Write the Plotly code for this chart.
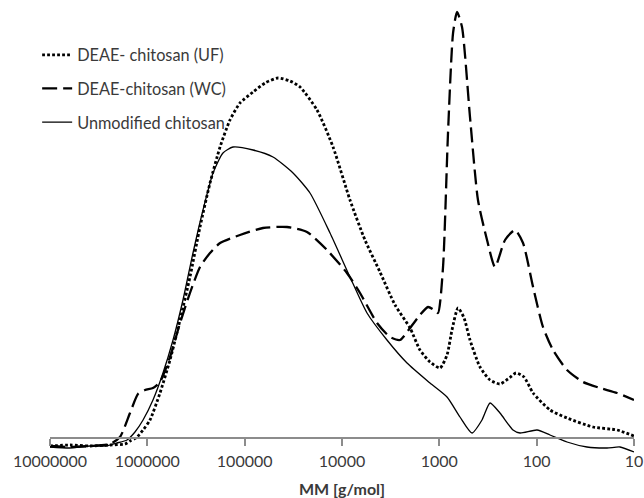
import numpy as np
import plotly.graph_objects as go

# ---- data (log10 of molar mass, detector signal in arbitrary units)
uf_log_mm = [7.000, 6.795, 6.589, 6.384, 6.229, 6.178, 6.116, 6.044, 5.973, 5.870, 5.767, 5.664,
             5.562, 5.459, 5.356, 5.253, 5.151, 5.048, 4.914, 4.791, 4.657, 4.534, 4.431, 4.257,
             4.092, 3.918, 3.764, 3.610, 3.455, 3.301, 3.199, 3.096, 2.993, 2.921, 2.870, 2.808,
             2.746, 2.685, 2.582, 2.479, 2.377, 2.294, 2.212, 2.130, 2.037, 1.863, 1.688, 1.421,
             1.174, 1.000]
uf_signal = [-8, -7, -8, -7, -6, -3, 0, 8, 18, 45, 78, 118,
             161, 211, 255, 291, 318, 335, 346, 355, 360, 357, 351, 328,
             291, 238, 198, 166, 133, 110, 88, 76, 70, 83, 108, 130,
             120, 98, 71, 58, 54, 59, 65, 61, 45, 28, 20, 11,
             8, 2]

wc_log_mm = [7.000, 6.795, 6.589, 6.384, 6.281, 6.178, 6.096, 6.024, 5.942, 5.870, 5.767, 5.664,
             5.562, 5.459, 5.356, 5.253, 5.048, 4.812, 4.565, 4.360, 4.154, 3.949, 3.815, 3.640,
             3.507, 3.404, 3.301, 3.199, 3.116, 3.055, 3.014, 2.962, 2.911, 2.859, 2.818, 2.767,
             2.685, 2.603, 2.510, 2.428, 2.325, 2.222, 2.140, 2.037, 1.935, 1.832, 1.688, 1.524,
             1.349, 1.174, 1.000]
wc_signal = [-8, -9, -8, -6, 1, 25, 44, 48, 50, 56, 81, 115,
             145, 171, 185, 195, 203, 210, 211, 206, 188, 165, 145, 115,
             101, 98, 110, 123, 131, 128, 125, 171, 305, 405, 426, 411,
             321, 238, 198, 171, 198, 208, 195, 151, 111, 88, 68, 56,
             50, 45, 38]

unmod_log_mm = [7.000, 6.795, 6.589, 6.435, 6.312, 6.209, 6.127, 6.044, 5.942, 5.839, 5.736, 5.634,
                5.531, 5.428, 5.325, 5.223, 5.120, 4.914, 4.709, 4.503, 4.329, 4.123, 3.918, 3.743,
                3.538, 3.332, 3.096, 2.921, 2.788, 2.664, 2.562, 2.479, 2.377, 2.243, 2.171, 1.996,
                1.863, 1.688, 1.483, 1.277, 1.144, 1.000]
unmod_signal = [-9, -10, -8, -8, -5, -2, 6, 18, 38, 65, 98, 138,
                185, 228, 265, 285, 291, 288, 281, 265, 245, 205, 161, 125,
                98, 75, 55, 41, 21, 5, 18, 35, 25, 8, 5, 8,
                3, -4, -9, -10, -9, -14]

tick_values = [1e7, 1e6, 1e5, 1e4, 1e3, 1e2, 1e1]
tick_labels = ["10000000", "1000000", "100000", "10000", "1000", "100", "10"]

series_names = ["DEAE- chitosan (UF)", "DEAE-chitosan (WC)", "Unmodified chitosan"]

FONT = "Lato"
TEXT = "#3a3a3a"
AXIS = "#8c8c8c"

fig = go.Figure()
fig.add_trace(go.Scatter(
    x=10 ** np.array(uf_log_mm), y=uf_signal, mode="lines", name=series_names[0],
    legendgroup="a", line=dict(color="black", width=2.8, dash="2.8px,2.2px", shape="spline", smoothing=0.6)))
fig.add_trace(go.Scatter(
    x=10 ** np.array(wc_log_mm), y=wc_signal, mode="lines", name=series_names[1],
    legendgroup="b", line=dict(color="black", width=2.3, dash="15px,6px", shape="spline", smoothing=0.6)))
fig.add_trace(go.Scatter(
    x=10 ** np.array(unmod_log_mm), y=unmod_signal, mode="lines", name=series_names[2],
    legendgroup="c", line=dict(color="black", width=1.3, shape="spline", smoothing=0.6)))

y_low, y_high = -15, 428
fig.update_layout(
    width=644, height=498,
    margin=dict(l=50, r=10, t=10, b=45),
    paper_bgcolor="white", plot_bgcolor="white",
    font=dict(family=FONT, size=16, color=TEXT),
    showlegend=True,
    legend=dict(x=-0.022, xanchor="left", y=0.9375, yanchor="top",
                traceorder="grouped", tracegroupgap=9.5,
                bgcolor="rgba(0,0,0,0)", font=dict(family=FONT, size=16.3, color=TEXT)),
    xaxis=dict(type="log", range=[7, 1], autorange=False,
               tickvals=tick_values, ticktext=tick_labels,
               showgrid=False, zeroline=False,
               showline=True, linecolor=AXIS, linewidth=1.5,
               ticks="outside", ticklen=7, tickwidth=1.5, tickcolor=AXIS,
               anchor="free", position=(0 - y_low) / (y_high - y_low),
               ticklabelstandoff=2,
               tickfont=dict(family=FONT, size=16, color=TEXT),
               title=dict(text="<b>MM [g/mol]</b>", font=dict(family=FONT, size=16, color=TEXT), standoff=16),
               automargin=False),
    yaxis=dict(range=[y_low, y_high], autorange=False, visible=False, showgrid=False, zeroline=False),
)

fig.write_html("out.html", config={"displayModeBar": False},
               post_script="document.body.style.margin='0';")
